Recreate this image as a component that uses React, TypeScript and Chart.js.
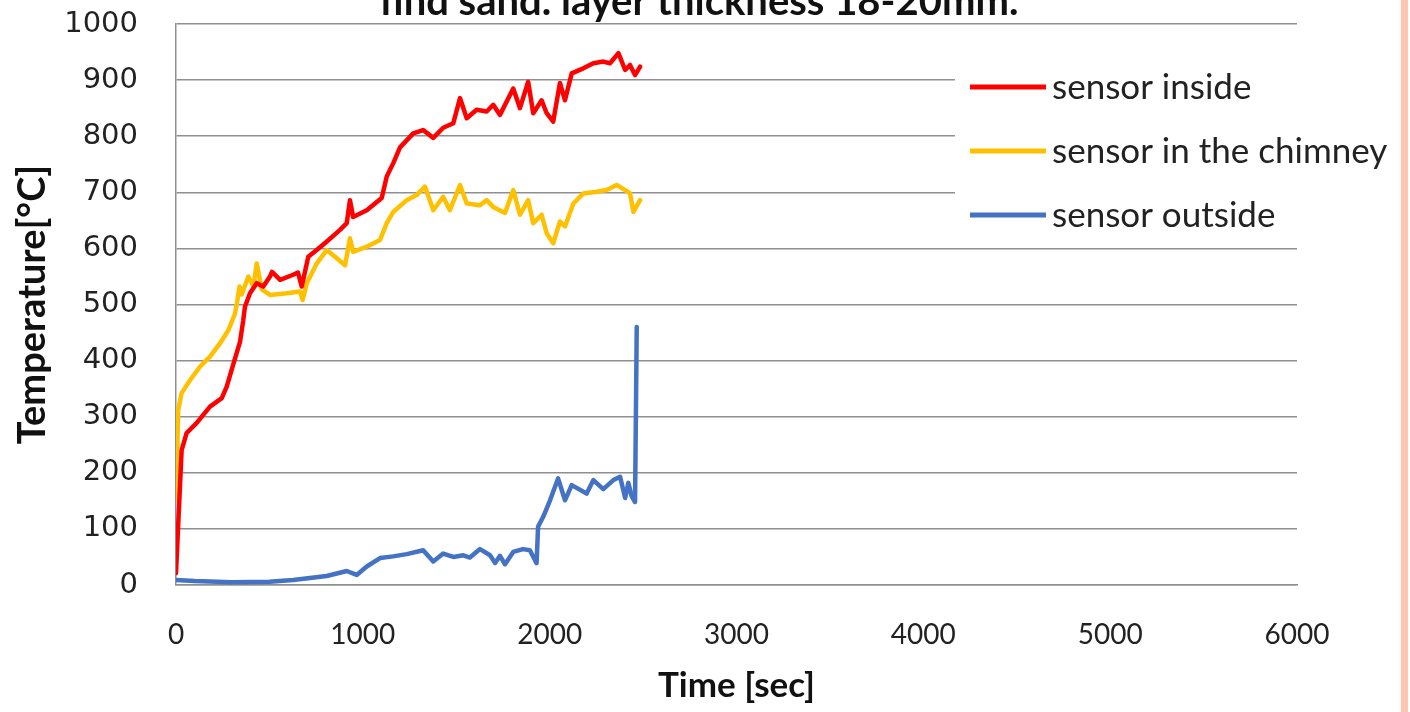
import React, { useEffect, useRef } from "react";
import { Chart, registerables } from "chart.js";

Chart.register(...registerables);

const chartTitle = "find sand. layer thickness 18-20mm.";
const xAxisTitle = "Time [sec]";
const yAxisTitle = "Temperature[°C]";

const seriesLabels = ["sensor inside", "sensor in the chimney", "sensor outside"];
const seriesColors = ["#FF0000", "#FFC000", "#4472C4"];

const insideTime = [0, 30, 57, 111, 182, 245, 271, 316, 343, 360, 369, 396, 432, 467, 503, 514, 557, 627, 653, 673, 708, 753, 806, 878, 914, 931, 948, 1021, 1101, 1128, 1163, 1199, 1270, 1323, 1377, 1430, 1484, 1520, 1556, 1609, 1663, 1698, 1734, 1805, 1841, 1885, 1912, 1957, 1984, 2019, 2055, 2082, 2118, 2180, 2234, 2287, 2323, 2368, 2404, 2430, 2457, 2484];
const insideTemp = [21, 240, 271, 289, 318, 333, 353, 404, 434, 472, 496, 520, 538, 532, 550, 558, 544, 553, 557, 532, 585, 597, 612, 633, 645, 686, 656, 668, 690, 728, 752, 780, 805, 811, 797, 815, 823, 868, 832, 847, 844, 856, 838, 885, 850, 897, 841, 864, 841, 826, 895, 864, 912, 921, 930, 933, 930, 948, 918, 927, 909, 924];

const chimneyTime = [0, 12, 30, 75, 128, 182, 236, 280, 316, 330, 340, 352, 387, 414, 432, 459, 503, 593, 664, 678, 700, 753, 806, 851, 905, 931, 948, 1021, 1092, 1128, 1163, 1235, 1288, 1333, 1377, 1430, 1466, 1520, 1556, 1627, 1663, 1698, 1761, 1805, 1841, 1885, 1912, 1957, 1984, 2019, 2055, 2082, 2127, 2180, 2252, 2305, 2359, 2404, 2430, 2448, 2484];
const chimneyTemp = [151, 312, 342, 365, 389, 407, 431, 454, 484, 510, 532, 518, 550, 532, 573, 527, 517, 520, 523, 508, 538, 573, 597, 585, 570, 618, 594, 603, 615, 645, 665, 686, 695, 710, 668, 692, 668, 713, 680, 677, 686, 674, 663, 704, 660, 686, 645, 660, 627, 609, 648, 639, 680, 698, 701, 704, 713, 704, 698, 665, 686];

const outsideTime = [0, 100, 300, 500, 627, 806, 914, 967, 1021, 1092, 1162, 1235, 1323, 1377, 1430, 1484, 1538, 1573, 1627, 1681, 1708, 1734, 1761, 1805, 1857, 1894, 1930, 1938, 1966, 2002, 2045, 2082, 2118, 2198, 2234, 2287, 2341, 2377, 2404, 2421, 2439, 2457, 2466];
const outsideTemp = [9, 7, 5, 6, 9, 16, 25, 18, 33, 48, 51, 55, 62, 42, 56, 50, 53, 49, 64, 53, 39, 52, 37, 59, 64, 62, 39, 104, 122, 151, 190, 151, 178, 163, 187, 171, 187, 193, 155, 182, 158, 148, 460];

const xMin = 0;
const xMax = 6000;
const xStep = 1000;
const yMin = 0;
const yMax = 1000;
const yStep = 100;

const toPoints = (t: number[], v: number[]) => t.map((x, i) => ({ x, y: v[i] }));

const backgroundPlugin = {
  id: "bg",
  beforeDraw(chart: any) {
    const { ctx, width, height } = chart;
    ctx.save();
    ctx.fillStyle = "#ffffff";
    ctx.fillRect(0, 0, width, height);
    ctx.fillStyle = "#FDC5B1";
    ctx.fillRect(1401, 0, 7, height);
    ctx.restore();
  },
};

const titlePlugin = {
  id: "cutTitle",
  afterDraw(chart: any) {
    const { ctx } = chart;
    ctx.save();
    ctx.font = "bold 40px Lato";
    ctx.fillStyle = "#111111";
    ctx.textAlign = "center";
    ctx.textBaseline = "alphabetic";
    ctx.fillText(chartTitle, 699, 15);
    ctx.restore();
  },
};

const legendPlugin = {
  id: "insideLegend",
  afterDraw(chart: any) {
    const { ctx } = chart;
    ctx.save();
    ctx.fillStyle = "#ffffff";
    ctx.fillRect(955, 46, 345, 188);
    chart.data.datasets.forEach((ds: any, i: number) => {
      const y = 87 + i * 64;
      ctx.strokeStyle = ds.borderColor;
      ctx.lineWidth = 5;
      ctx.beginPath();
      ctx.moveTo(970, y);
      ctx.lineTo(1046, y);
      ctx.stroke();
      ctx.font = "35px Lato";
      ctx.fillStyle = "#222222";
      ctx.textAlign = "left";
      ctx.textBaseline = "middle";
      ctx.fillText(ds.label, 1052, y + 1);
    });
    ctx.restore();
  },
};

export default function App() {
  const canvasRef = useRef<HTMLCanvasElement | null>(null);

  useEffect(() => {
    if (!canvasRef.current) return;
    const chart = new Chart(canvasRef.current, {
      type: "line",
      data: {
        datasets: [
          { label: seriesLabels[0], data: toPoints(insideTime, insideTemp), borderColor: seriesColors[0], backgroundColor: seriesColors[0] },
          { label: seriesLabels[1], data: toPoints(chimneyTime, chimneyTemp), borderColor: seriesColors[1], backgroundColor: seriesColors[1] },
          { label: seriesLabels[2], data: toPoints(outsideTime, outsideTemp), borderColor: seriesColors[2], backgroundColor: seriesColors[2] },
        ],
      },
      options: {
        responsive: false,
        animation: false,
        parsing: false as any,
        layout: { autoPadding: false, padding: { top: 24, right: 113, left: 0, bottom: 0 } },
        elements: {
          point: { radius: 0 },
          line: { borderWidth: 4.5, tension: 0, borderJoinStyle: "round", borderCapStyle: "round" },
        },
        plugins: {
          legend: { display: false },
          tooltip: { enabled: false },
          title: { display: false },
        },
        scales: {
          x: {
            type: "linear",
            min: xMin,
            max: xMax,
            afterFit: (s: any) => { s.height = 127; },
            ticks: {
              stepSize: xStep,
              padding: 33,
              color: "#222222",
              font: { family: "Lato", size: 28 },
              maxRotation: 0,
              callback: (v: any) => String(v),
            },
            grid: { display: false, drawTicks: false },
            border: { display: true, color: "#8f8f8f", width: 1.5 },
            title: {
              display: true,
              text: xAxisTitle,
              color: "#111111",
              font: { family: "Lato", size: 35, weight: "bold" },
              padding: { top: 0, bottom: 5 },
            },
          },
          y: {
            type: "linear",
            min: yMin,
            max: yMax,
            afterFit: (s: any) => { s.width = 176; s.paddingTop = 0; s.paddingBottom = 0; },
            ticks: {
              stepSize: yStep,
              padding: 38,
              color: "#222222",
              font: { family: "DejaVu Sans", size: 29 },
              callback: (v: any) => String(v),
            },
            grid: { display: true, drawTicks: false, color: "#8f8f8f", lineWidth: 1.5 },
            border: { display: true, color: "#8f8f8f", width: 1.5 },
            title: {
              display: true,
              text: yAxisTitle,
              color: "#111111",
              font: { family: "Lato", size: 38, weight: "bold" },
              padding: { top: 10, bottom: 0 },
            },
          },
        },
      },
      plugins: [backgroundPlugin, titlePlugin, legendPlugin],
    });
    return () => chart.destroy();
  }, []);

  return (
    <div style={{ position: "absolute", left: 0, top: 0, width: 1410, height: 712 }}>
      <canvas ref={canvasRef} width={1410} height={712} style={{ display: "block" }} />
    </div>
  );
}
